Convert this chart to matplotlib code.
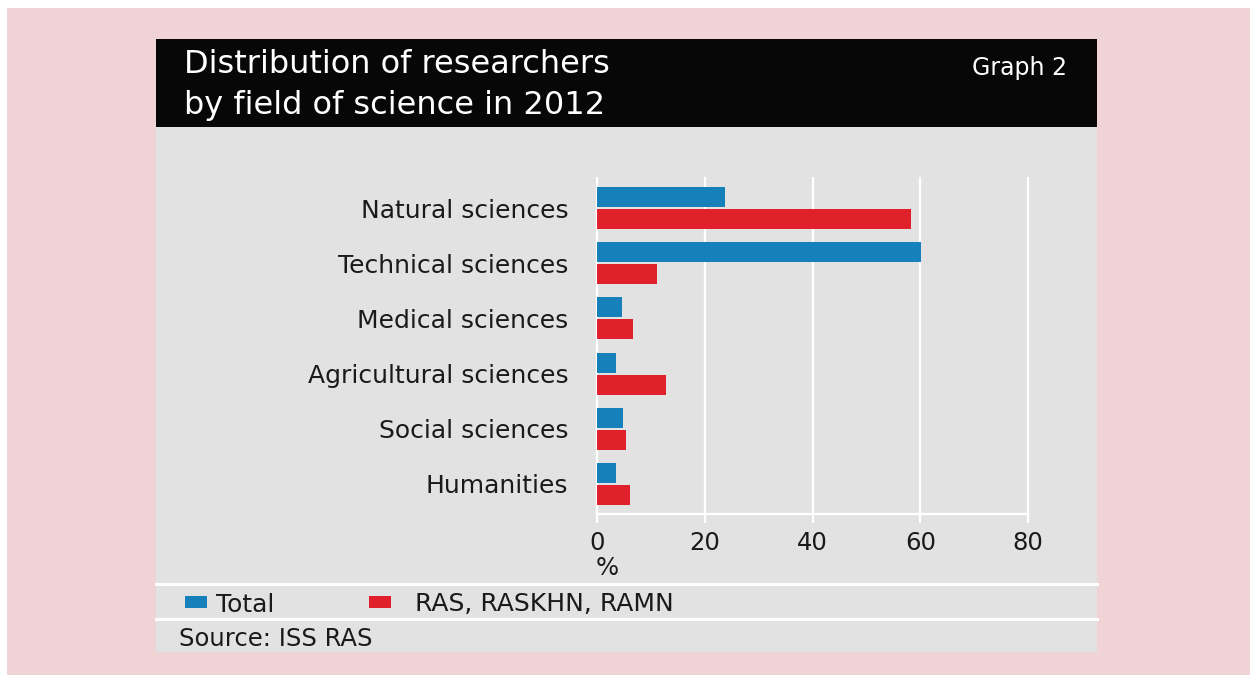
import numpy as np
import matplotlib
matplotlib.use("Agg")
import matplotlib.pyplot as plt
from matplotlib.patches import Rectangle
from matplotlib.lines import Line2D

# Share of researchers by field of science, 2012 (%)
categories = ["Natural sciences", "Technical sciences", "Medical sciences",
              "Agricultural sciences", "Social sciences", "Humanities"]
total = [23.7, 60.2, 4.6, 3.4, 4.7, 3.5]
academies = [58.3, 11.1, 6.7, 12.7, 5.3, 6.0]
series_names = ["Total", "RAS, RASKHN, RAMN"]
x_ticks = [0, 20, 40, 60, 80]

W, H = 1250, 675
BLUE = "#1580b9"
RED = "#e0202b"
PANEL = "#e2e2e2"
PINK = "#f0d4d5"
INK = "#1a1a1a"

plt.rcParams["font.family"] = ["DejaVu Sans"]

fig = plt.figure(figsize=(W / 100, H / 100), dpi=100)
fig.patch.set_facecolor("white")


def fx(px):
    return px / W


def fy(py):
    return 1 - py / H


def box(x0, y0, x1, y1, color, z=-2):
    fig.patches.append(Rectangle((fx(x0), fy(y1)), fx(x1) - fx(x0), fy(y0) - fy(y1),
                                 transform=fig.transFigure, facecolor=color,
                                 edgecolor="none", zorder=z))


# page background, title band and grey panel
box(7, 8, W, H, PINK)
box(156, 39.5, 1097, 127, "#070707")
box(156, 127, 1097, 652, PANEL)
for yy in (584, 619):
    fig.lines.append(Line2D([fx(156), fx(1097)], [fy(yy), fy(yy)],
                            transform=fig.transFigure, color="white", lw=2.2,
                            zorder=-1))

# bar chart
ax = fig.add_axes([fx(597.3), fy(514), fx(1028) - fx(597.3), fy(178) - fy(514)])
ax.set_zorder(5)
ax.set_facecolor("none")
pos = np.arange(len(categories))
h = 0.363
ax.barh(pos - 0.2, total, height=h, color=BLUE, zorder=3)
ax.barh(pos + 0.2, academies, height=h, color=RED, zorder=3)
ax.set_xlim(0, 80)
ax.set_ylim(len(categories) - 0.45, -0.55)
ax.set_xticks(x_ticks)
ax.set_yticks(pos, categories)
ax.grid(axis="x", color="white", lw=1.6, zorder=1)
for gl in ax.get_xgridlines():
    gl.set_clip_on(False)
for s in ("top", "right", "left"):
    ax.spines[s].set_visible(False)
ax.spines["bottom"].set_color("white")
ax.spines["bottom"].set_linewidth(1.6)
ax.tick_params(axis="x", color="white", length=6.5, width=1.6, pad=6,
               labelsize=17.5, labelcolor=INK)
ax.tick_params(axis="y", length=0, pad=21, labelsize=18, labelcolor=INK)

fig.text(fx(607), fy(568), "%", ha="center", va="center", size=17.5, color=INK)

# title band
fig.text(fx(184), fy(73), "Distribution of researchers", color="white",
         size=23, va="baseline", ha="left")
fig.text(fx(184), fy(114), "by field of science in 2012", color="white",
         size=23, va="baseline", ha="left")
fig.text(fx(1067), fy(75), "Graph 2", color="white", size=17,
         va="baseline", ha="right")

# legend row
box(184.5, 595.5, 206.5, 607.5, BLUE, z=2)
fig.text(fx(216), fy(611.5), series_names[0], va="baseline", ha="left", size=18, color=INK)
box(368.5, 595.5, 390.5, 607.5, RED, z=2)
fig.text(fx(415), fy(611.5), series_names[1], va="baseline", ha="left", size=18, color=INK)

# source line
fig.text(fx(179), fy(646.5), "Source: ISS RAS", va="baseline", ha="left", size=17.5, color=INK)

fig.savefig("out.png", dpi=100)
